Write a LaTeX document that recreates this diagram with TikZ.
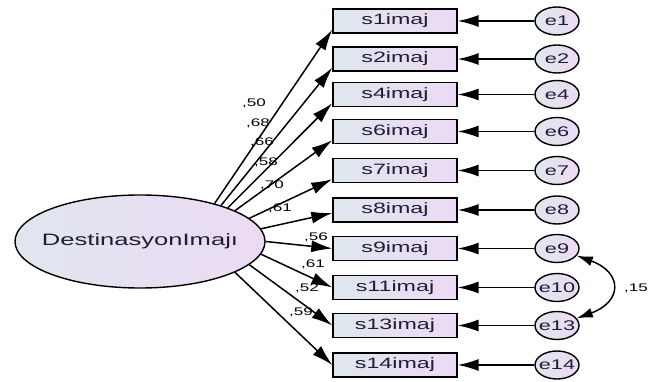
\documentclass[tikz,border=0pt]{standalone}
\usepackage{fontspec}
\setmainfont{Liberation Sans}
\usetikzlibrary{arrows.meta,shapes.geometric}

\definecolor{fillleft}{RGB}{224,230,238}
\definecolor{fillright}{RGB}{236,218,244}
\definecolor{inktext}{RGB}{30,30,55}

% wide text, as in the original export
\newcommand{\widetext}[1]{\scalebox{1.55}[1]{#1}}
% same, but taking no width, so the shape keeps its own size
\newcommand{\flattext}[1]{\makebox[0pt]{\widetext{#1}}}

\tikzset{
    itembox/.style={draw, line width=1.4pt, minimum width=124pt, minimum height=24pt,
        inner sep=0pt, left color=fillleft, right color=fillright,
        text=inktext, font=\fontsize{15}{15}\selectfont},
    latent/.style={ellipse, draw, line width=1.4pt, minimum width=250pt, minimum height=93pt,
        inner sep=0pt, left color=fillleft, right color=fillright,
        text=inktext, font=\fontsize{16.5}{16.5}\selectfont},
    errnode/.style={ellipse, draw, line width=1.4pt, minimum width=44pt, minimum height=28pt,
        inner sep=0pt, left color=fillleft, right color=fillright,
        text=inktext, font=\fontsize{14}{14}\selectfont},
    loadarrow/.style={line width=1.5pt, -{Latex[length=21pt,width=12pt]}},
    weight/.style={inner sep=0pt, font=\fontsize{11}{11}\selectfont}
}

\begin{document}
\begin{tikzpicture}[x=1pt,y=-1pt]

    \useasboundingbox (0,0) rectangle (648,382);

    % Latent variable
    \node[latent] (D) at (140,241.5) {\flattext{DestinasyonImajı}};

    % Observed items
    \node[itembox] (s1) at (395,21) {\widetext{s1imaj}};
    \node[itembox] (s2) at (395,59) {\widetext{s2imaj}};
    \node[itembox] (s4) at (395,94.5) {\widetext{s4imaj}};
    \node[itembox] (s6) at (395,131.5) {\widetext{s6imaj}};
    \node[itembox] (s7) at (395,170.5) {\widetext{s7imaj}};
    \node[itembox] (s8) at (395,210) {\widetext{s8imaj}};
    \node[itembox] (s9) at (395,248.5) {\widetext{s9imaj}};
    \node[itembox] (s11) at (395,287.5) {\widetext{s11imaj}};
    \node[itembox] (s13) at (395,325.5) {\widetext{s13imaj}};
    \node[itembox] (s14) at (395,365) {\widetext{s14imaj}};

    % Error terms
    \node[errnode] (e1) at (557,21) {\flattext{e1}};
    \node[errnode] (e2) at (557,59) {\flattext{e2}};
    \node[errnode] (e4) at (557,94.5) {\flattext{e4}};
    \node[errnode] (e6) at (557,131.5) {\flattext{e6}};
    \node[errnode] (e7) at (557,170.5) {\flattext{e7}};
    \node[errnode] (e8) at (557,210) {\flattext{e8}};
    \node[errnode] (e9) at (557,248.5) {\flattext{e9}};
    \node[errnode] (e10) at (557,287.5) {\flattext{e10}};
    \node[errnode] (e13) at (557,325.5) {\flattext{e13}};
    \node[errnode] (e14) at (557,365) {\flattext{e14}};

    % Loadings from the latent variable
    \draw[loadarrow] (D.27) -- ([yshift=4pt]s1.south west);
    \draw[loadarrow] (D.24) -- ([yshift=4pt]s2.south west);
    \draw[loadarrow] (D.21) -- ([yshift=4pt]s4.south west);
    \draw[loadarrow] (D.18) -- ([yshift=4pt]s6.south west);
    \draw[loadarrow] (D.12) -- ([yshift=4pt]s7.south west);
    \draw[loadarrow] (D.6) -- ([yshift=-3pt]s8.west);
    \draw[loadarrow] (D.0) -- (s9.west);
    \draw[loadarrow] (D.-6) -- (s11.west);
    \draw[loadarrow] (D.-12) -- (s13.west);
    \draw[loadarrow] (D.-18) -- (s14.west);

    % Error arrows
    \draw[loadarrow] (e1) -- (s1);
    \draw[loadarrow] (e2) -- (s2);
    \draw[loadarrow] (e4) -- (s4);
    \draw[loadarrow] (e6) -- (s6);
    \draw[loadarrow] (e7) -- (s7);
    \draw[loadarrow] (e8) -- (s8);
    \draw[loadarrow] (e9) -- (s9);
    \draw[loadarrow] (e10) -- (s11);
    \draw[loadarrow] (e13) -- (s13);
    \draw[loadarrow] (e14) -- (s14);

    % Covariance between e9 and e13
    \draw[line width=1.5pt, {Latex[length=16pt,width=10pt]}-{Latex[length=16pt,width=10pt]}]
        (e9.-20) to[out=-20,in=20,looseness=2] (e13.20);

    % Weights
    \node[weight] (w1) at (254,103) {\widetext{,50}};
    \node[weight] (w2) at (258,123) {\widetext{,68}};
    \node[weight] (w4) at (262,142) {\widetext{,66}};
    \node[weight] (w6) at (266,162) {\widetext{,58}};
    \node[weight] (w7) at (272,185) {\widetext{,70}};
    \node[weight] (w8) at (280,208) {\widetext{,61}};
    \node[weight] (w9) at (316,237) {\widetext{,56}};
    \node[weight] (w11) at (313,264) {\widetext{,61}};
    \node[weight] (w13) at (307,288) {\widetext{,52}};
    \node[weight] (w14) at (301,312) {\widetext{,59}};
    \node[weight] (w15) at (636,288) {\widetext{,15}};

\end{tikzpicture}
\end{document}
